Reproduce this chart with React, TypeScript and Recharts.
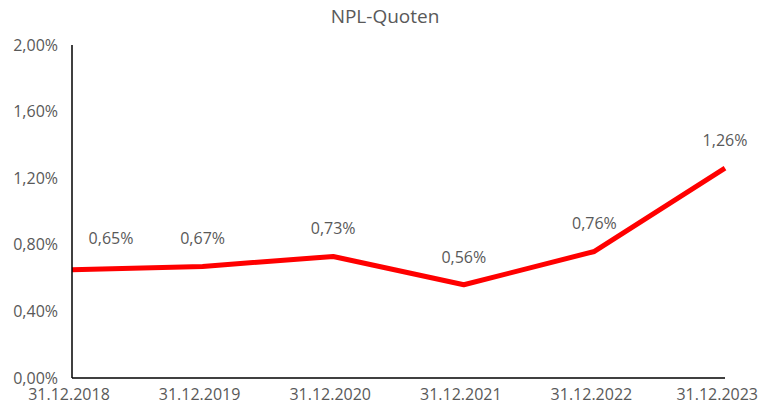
import React from 'react';
import { LineChart, Line, XAxis, YAxis, LabelList } from 'recharts';

const dates = ['31.12.2018', '31.12.2019', '31.12.2020', '31.12.2021', '31.12.2022', '31.12.2023'];
const nplRates = [0.65, 0.67, 0.73, 0.56, 0.76, 1.26];
const yTicks = [0, 0.4, 0.8, 1.2, 1.6, 2.0];

const chartData = dates.map((date, i) => ({ date, npl: nplRates[i] }));

const fmt = (v: number) => v.toFixed(2).replace('.', ',') + '%';

const FONT = '"Open Sans", sans-serif';
const GREY = '#595959';
const PLOT_LEFT = 72;

const XTick = (props: any) => {
    const { x, y, payload, index } = props;
    const last = index === dates.length - 1;
    return (
        <text
            x={last ? 758 : x - 3}
            y={y}
            dy="0.71em"
            textAnchor={last ? 'end' : 'middle'}
            fill={GREY}
            fontSize={16}
            fontFamily={FONT}
        >
            {payload.value}
        </text>
    );
};

const PointLabel = (props: any) => {
    const { x, y, value } = props;
    const tx = Math.max(x, PLOT_LEFT + 39);
    // label pushed inside the plot at the left edge sits a little higher
    const ty = tx !== x ? y - 26 : y - 22;
    return (
        <text x={tx} y={ty} textAnchor="middle" fill={GREY} fontSize={16} fontFamily={FONT}>
            {fmt(value)}
        </text>
    );
};

export default function App() {
    return (
        <div style={{ position: 'absolute', left: 0, top: 0, width: 761, height: 405, background: '#fff' }}>
            <div
                style={{
                    position: 'absolute',
                    top: 3,
                    left: 385,
                    transform: 'translateX(-50%)',
                    fontFamily: FONT,
                    fontSize: 19,
                    color: GREY,
                    whiteSpace: 'nowrap',
                }}
            >
                NPL-Quoten
            </div>
            <LineChart width={761} height={405} data={chartData} margin={{ top: 45, right: 36, left: 0, bottom: 0 }}>
                <XAxis
                    dataKey="date"
                    height={27}
                    tickLine={false}
                    tickMargin={5}
                    axisLine={{ stroke: '#000', strokeWidth: 1.5 }}
                    tick={<XTick />}
                    interval={0}
                />
                <YAxis
                    width={72}
                    domain={[0, 2]}
                    ticks={yTicks}
                    tickFormatter={fmt}
                    tickLine={false}
                    tickMargin={8}
                    axisLine={{ stroke: '#000', strokeWidth: 1.5 }}
                    tick={{ fill: GREY, fontSize: 16, fontFamily: FONT }}
                />
                <Line
                    type="linear"
                    dataKey="npl"
                    stroke="#ff0000"
                    strokeWidth={5}
                    strokeLinejoin="round"
                    dot={false}
                    isAnimationActive={false}
                >
                    <LabelList dataKey="npl" content={<PointLabel />} />
                </Line>
            </LineChart>
        </div>
    );
}
